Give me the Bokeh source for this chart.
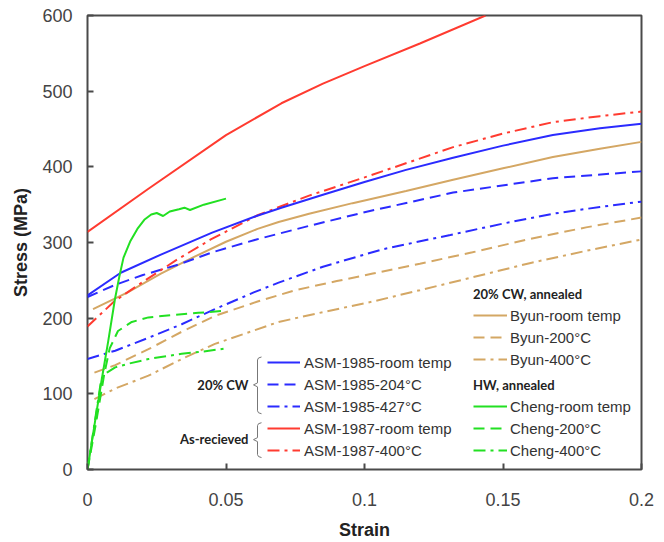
from bokeh.plotting import figure
from bokeh.models import Range1d, FixedTicker, Legend, LegendItem
from bokeh.embed import file_html
from bokeh.resources import INLINE

# ---------------- data ----------------
asm85_rt_x = [0, 0.012, 0.0265, 0.045, 0.061, 0.07, 0.085, 0.1, 0.115, 0.132, 0.15, 0.168, 0.185, 0.2]
asm85_rt_y = [230, 260, 284, 313, 335, 346, 363, 380, 396, 412, 428, 442, 451, 457]

asm85_204_x = [0, 0.01, 0.02, 0.033, 0.045, 0.061, 0.08, 0.1, 0.132, 0.168, 0.2]
asm85_204_y = [228, 244, 257, 271, 287, 304, 322, 340, 366, 385, 394]

asm85_427_x = [0, 0.01, 0.022, 0.034, 0.046, 0.06, 0.069, 0.085, 0.1065, 0.131, 0.15, 0.168, 0.185, 0.2]
asm85_427_y = [146, 157, 174, 192, 212, 234, 247, 268, 291, 310, 325, 338, 347, 354]

asm87_rt_x = [0, 0.022, 0.05, 0.07, 0.085, 0.1, 0.12, 0.1437]
asm87_rt_y = [314, 371, 442, 484, 510, 533, 563, 600]

asm87_400_x = [0, 0.0096, 0.0204, 0.0326, 0.0445, 0.0614, 0.08, 0.1, 0.132, 0.15, 0.168, 0.185, 0.2]
asm87_400_y = [189, 222, 249, 278, 304, 336, 362, 386, 426, 444, 459, 467, 473]

byun_rt_x = [0.002, 0.0145, 0.0265, 0.0385, 0.05, 0.0614, 0.069, 0.08, 0.0957, 0.115, 0.132, 0.15, 0.168, 0.185, 0.2]
byun_rt_y = [212, 234, 259, 281, 301, 318, 327, 338, 352, 368, 383, 398, 413, 424, 433]

byun_200_x = [0.0025, 0.01, 0.022, 0.034, 0.046, 0.0614, 0.075, 0.09, 0.103, 0.12, 0.139, 0.16, 0.18, 0.2]
byun_200_y = [128, 138, 159, 182, 203, 222, 237, 249, 259, 272, 287, 305, 320, 333]

byun_400_x = [0.0025, 0.01, 0.022, 0.034, 0.046, 0.069, 0.085, 0.103, 0.12, 0.139, 0.16, 0.18, 0.2]
byun_400_y = [93, 107, 124, 146, 166, 195, 208, 222, 237, 254, 273, 289, 304]

cheng_rt_x = [0, 0.003, 0.005, 0.0075, 0.0099, 0.0115, 0.013, 0.0155, 0.018, 0.0205, 0.023, 0.025,
              0.0273, 0.0297, 0.033, 0.035, 0.037, 0.042, 0.05]
cheng_rt_y = [0, 70, 116, 170, 225, 255, 280, 302, 318, 330, 337, 339,
              335, 341, 344, 346, 343, 350, 358]

cheng_200_x = [0, 0.003, 0.006, 0.008, 0.011, 0.016, 0.022, 0.03, 0.04, 0.05]
cheng_200_y = [0, 60, 125, 160, 183, 195, 201, 204, 207, 210]

cheng_400_x = [0, 0.003, 0.005, 0.007, 0.01, 0.015, 0.022, 0.034, 0.042, 0.05]
cheng_400_y = [0, 72, 120, 128, 135, 140, 146, 153, 156, 160]

x_ticks = [0, 0.05, 0.1, 0.15, 0.2]
x_tick_labels = ["0", "0.05", "0.1", "0.15", "0.2"]
y_ticks = [0, 100, 200, 300, 400, 500, 600]

labels_left = ["ASM-1985-room temp", "ASM-1985-204°C", "ASM-1985-427°C",
               "ASM-1987-room temp", "ASM-1987-400°C"]
labels_byun = ["Byun-room temp", "Byun-200°C", "Byun-400°C"]
labels_cheng = ["Cheng-room temp", "Cheng-200°C", "Cheng-400°C"]
group_left = ["20% CW", "As-recieved"]
group_right = ["20% CW, annealed", "HW, annealed"]

# ---------------- styling ----------------
BLUE = "#2b2bff"
RED = "#ff3b30"
TAN = "#d4a764"
GREEN = "#22e022"
DASH = "11 6"
DASHDOT = "12 5 3 5"
LW = 2

X0, X1, Y0, Y1 = 0, 0.2, 0, 600
FRAME_L, FRAME_B = 87, 471
FRAME_W, FRAME_H = 554, 456

p = figure(width=656, height=542, output_backend="svg", toolbar_location=None,
           x_range=Range1d(X0, X1), y_range=Range1d(Y0, Y1),
           min_border_left=87, min_border_right=15, min_border_top=15, min_border_bottom=71,
           x_axis_label="Strain", y_axis_label="Stress (MPa)")
p.grid.visible = False
p.outline_line_color = "#4a4a4a"
p.outline_line_width = 2
p.background_fill_color = "white"
p.border_fill_color = "white"

for ax in (p.xaxis[0], p.yaxis[0]):
    ax.axis_line_color = None
    ax.major_tick_in = 6
    ax.major_tick_out = 0
    ax.minor_tick_line_color = None
    ax.major_tick_line_color = "#4a4a4a"
    ax.major_tick_line_width = 2
    ax.major_label_text_font = "Liberation Sans"
    ax.major_label_text_font_size = "18px"
    ax.major_label_text_color = "#444444"
    ax.axis_label_text_font = "Liberation Sans"
    ax.axis_label_text_font_size = "18px"
    ax.axis_label_text_font_style = "bold"
    ax.axis_label_text_color = "#222222"

p.xaxis[0].ticker = FixedTicker(ticks=x_ticks)
p.xaxis[0].major_label_overrides = {t: l for t, l in zip(x_ticks, x_tick_labels)}
p.xaxis[0].major_label_standoff = 23
p.xaxis[0].axis_label_standoff = 11
p.yaxis[0].ticker = FixedTicker(ticks=y_ticks)
p.yaxis[0].major_label_standoff = 15
p.yaxis[0].axis_label_standoff = 8

# ---------------- curves ----------------
r_b = p.line(byun_rt_x, byun_rt_y, color=TAN, line_width=LW)
r_b2 = p.line(byun_200_x, byun_200_y, color=TAN, line_width=LW, line_dash=DASH)
r_b4 = p.line(byun_400_x, byun_400_y, color=TAN, line_width=LW, line_dash=DASHDOT)
r_a2 = p.line(asm85_204_x, asm85_204_y, color=BLUE, line_width=LW, line_dash=DASH)
r_a4 = p.line(asm85_427_x, asm85_427_y, color=BLUE, line_width=LW, line_dash=DASHDOT)
r_r4 = p.line(asm87_400_x, asm87_400_y, color=RED, line_width=LW, line_dash=DASHDOT)
r_a = p.line(asm85_rt_x, asm85_rt_y, color=BLUE, line_width=LW)
r_r = p.line(asm87_rt_x, asm87_rt_y, color=RED, line_width=LW)
r_c2 = p.line(cheng_200_x, cheng_200_y, color=GREEN, line_width=LW, line_dash=DASH)
r_c4 = p.line(cheng_400_x, cheng_400_y, color=GREEN, line_width=LW, line_dash=DASHDOT)
r_c = p.line(cheng_rt_x, cheng_rt_y, color=GREEN, line_width=LW)


def make_legend(labels, renderers, loc, title=None, glyph_w=33, standoff=4):
    lg = Legend(items=[LegendItem(label=l, renderers=[r]) for l, r in zip(labels, renderers)],
                location=loc, orientation="vertical",
                label_text_font="Liberation Sans", label_text_font_size="15px",
                label_text_color="#333333", glyph_width=glyph_w, glyph_height=20,
                label_height=20, label_standoff=standoff, spacing=2, padding=0, margin=0,
                border_line_alpha=0, background_fill_alpha=0)
    if title:
        lg.title = title
        lg.title_text_font = "Lato"
        lg.title_text_font_style = "bold"
        lg.title_text_font_size = "13px"
        lg.title_text_color = "#222222"
        lg.title_standoff = 3
    p.add_layout(lg, "center")
    return lg


make_legend(labels_left, [r_a, r_a2, r_a4, r_r, r_r4], (180, 9))
make_legend(labels_byun, [r_b, r_b2, r_b4], (386, 100), title=group_right[0], glyph_w=34, standoff=3)
make_legend(labels_cheng, [r_c, r_c2, r_c4], (386, 9), title=group_right[1], glyph_w=34, standoff=3)


# ---------------- bracket labels (decorations, page pixels -> data) ----------------
def dx(px):
    return X0 + (px - FRAME_L) / FRAME_W * (X1 - X0)


def dy(py):
    return Y0 + (FRAME_B - py) / FRAME_H * (Y1 - Y0)


def bracket(xl, ytop, ybot, ymid):
    xs = [dx(xl + 4), dx(xl + 1), dx(xl), dx(xl), dx(xl - 4), dx(xl), dx(xl), dx(xl + 1), dx(xl + 4)]
    ys = [dy(ytop), dy(ytop + 1), dy(ytop + 3), dy(ymid - 2), dy(ymid), dy(ymid + 2),
          dy(ybot - 3), dy(ybot - 1), dy(ybot)]
    p.line(xs, ys, color="#777777", line_width=1)


bracket(257, 358, 415, 386)
bracket(257, 424, 459, 441)

p.text([dx(248), dx(248)], [dy(386), dy(440)], text=group_left,
       text_font={"value": "Lato"}, text_font_style="bold", text_font_size="13px",
       text_color="#222222", text_align="right", text_baseline="middle")

open("out.html", "w").write(file_html(p, INLINE))
